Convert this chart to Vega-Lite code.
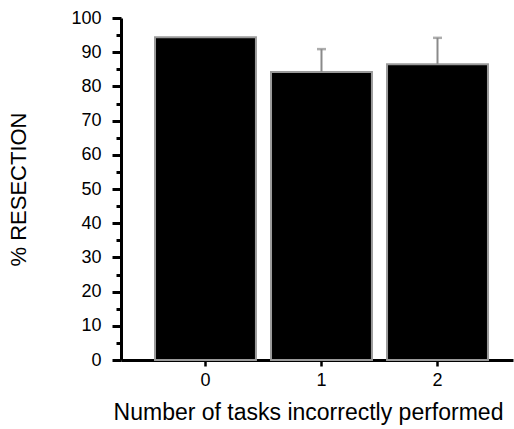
{
  "$schema": "https://vega.github.io/schema/vega-lite/v6.json",
  "width": 392,
  "height": 342,
  "autosize": {"type": "none"},
  "padding": {"left": 121, "top": 18, "right": 1, "bottom": 69},
  "background": "white",
  "config": {
    "view": {"stroke": null},
    "font": "Liberation Sans"
  },
  "data": {
    "values": [
      {"tasks": "0", "value": 94.4, "upper": null},
      {"tasks": "1", "value": 84.2, "upper": 90.9},
      {"tasks": "2", "value": 86.5, "upper": 94.2}
    ]
  },
  "encoding": {
    "x": {
      "field": "tasks",
      "type": "nominal",
      "scale": {"paddingInner": 0.13, "paddingOuter": 0.2545, "align": 0.576},
      "axis": {
        "title": "Number of tasks incorrectly performed",
        "titleFontSize": 23,
        "titleFontWeight": "normal",
        "titleColor": "black",
        "titlePadding": 12,
        "titleX": 187,
        "titleAnchor": "middle",
        "titleAlign": "center",
        "labelAngle": 0,
        "labelFontSize": 18,
        "labelColor": "black",
        "labelPadding": 5,
        "tickSize": 6,
        "tickWidth": 2.5,
        "tickColor": "black",
        "domainColor": "black",
        "domainWidth": 3
      }
    }
  },
  "layer": [
    {
      "mark": {"type": "bar", "color": "black", "stroke": "#9a9a9a", "strokeWidth": 2},
      "encoding": {
        "y": {
          "field": "value",
          "type": "quantitative",
          "scale": {"domain": [0, 100], "nice": false},
          "axis": {
            "title": "% RESECTION",
            "titleFontSize": 22,
            "titleFontWeight": "normal",
            "titleColor": "black",
            "titlePadding": 40,
            "values": [0,5,10,15,20,25,30,35,40,45,50,55,60,65,70,75,80,85,90,95,100],
            "labelExpr": "datum.value % 10 === 0 ? datum.label : ''",
            "labelOverlap": false,
            "labelFontSize": 18,
            "labelColor": "black",
            "labelPadding": 11,
            "tickSize": {"condition": {"test": "datum.value % 10 === 0", "value": 9}, "value": 5},
            "tickWidth": 3,
            "tickColor": "black",
            "domainColor": "black",
            "domainWidth": 3,
            "grid": false
          }
        }
      }
    },
    {
      "mark": {"type": "rule", "color": "#8a8a8a", "strokeWidth": 2},
      "encoding": {
        "y": {
          "field": "value",
          "type": "quantitative",
          "axis": {
            "title": "% RESECTION",
            "titleFontSize": 22,
            "titleFontWeight": "normal",
            "titleColor": "black",
            "titlePadding": 40,
            "values": [0,5,10,15,20,25,30,35,40,45,50,55,60,65,70,75,80,85,90,95,100],
            "labelExpr": "datum.value % 10 === 0 ? datum.label : ''",
            "labelOverlap": false,
            "labelFontSize": 18,
            "labelColor": "black",
            "labelPadding": 11,
            "tickSize": {"condition": {"test": "datum.value % 10 === 0", "value": 9}, "value": 5},
            "tickWidth": 3,
            "tickColor": "black",
            "domainColor": "black",
            "domainWidth": 3,
            "grid": false
          }
        },
        "y2": {"field": "upper"}
      }
    },
    {
      "mark": {"type": "tick", "color": "#8a8a8a", "thickness": 2.5, "size": 9},
      "encoding": {
        "y": {
          "field": "upper",
          "type": "quantitative",
          "axis": {
            "title": "% RESECTION",
            "titleFontSize": 22,
            "titleFontWeight": "normal",
            "titleColor": "black",
            "titlePadding": 40,
            "values": [0,5,10,15,20,25,30,35,40,45,50,55,60,65,70,75,80,85,90,95,100],
            "labelExpr": "datum.value % 10 === 0 ? datum.label : ''",
            "labelOverlap": false,
            "labelFontSize": 18,
            "labelColor": "black",
            "labelPadding": 11,
            "tickSize": {"condition": {"test": "datum.value % 10 === 0", "value": 9}, "value": 5},
            "tickWidth": 3,
            "tickColor": "black",
            "domainColor": "black",
            "domainWidth": 3,
            "grid": false
          }
        }
      }
    }
  ]
}
